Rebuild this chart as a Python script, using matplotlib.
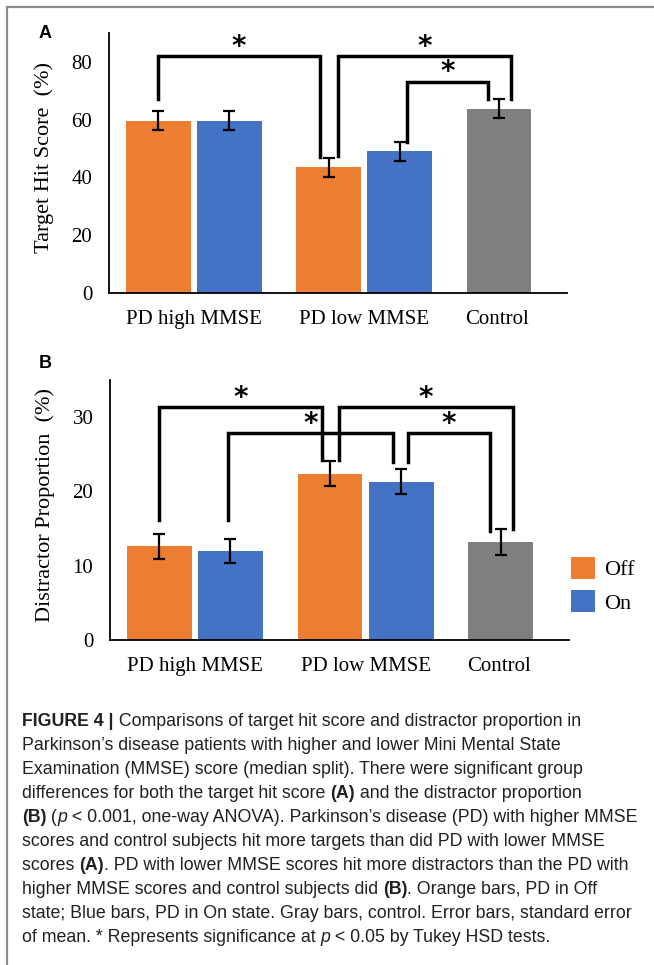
import matplotlib
matplotlib.use("Agg")
import matplotlib.pyplot as plt
from matplotlib import font_manager
from matplotlib.lines import Line2D

# categories / legend
groups = ['PD high MMSE', 'PD low MMSE', 'Control']
series = ['Off', 'On']

# panel A: target hit score (%)
hit_off = [59.7, 43.5]
hit_on = [59.7, 49.0]
hit_ctrl = 63.8
hit_off_err = [3.2, 3.2]
hit_on_err = [3.3, 3.2]
hit_ctrl_err = 3.2

# panel B: distractor proportion (%)
dis_off = [12.6, 22.4]
dis_on = [12.0, 21.3]
dis_ctrl = 13.2
dis_off_err = [1.7, 1.7]
dis_on_err = [1.6, 1.7]
dis_ctrl_err = 1.7

# significance brackets: (left x, right x, top, left leg end, right leg end)
brackets_a = [(0.0, 2.28, 82.1, 67.2, 47.1),
              (2.53, 4.97, 82.1, 47.3, 67.2),
              (3.5, 4.65, 73.2, 52.2, 67.2)]
brackets_b = [(0.0, 2.28, 31.4, 16.2, 24.2),
              (2.53, 4.97, 31.4, 24.2, 15.0),
              (0.97, 3.28, 27.9, 16.1, 23.9),
              (3.5, 4.65, 27.9, 23.9, 14.7)]

c_off = '#ED7D31'
c_on = '#4472C4'
c_ctrl = '#7F7F7F'

x_off = [0, 2.4]
x_on = [1, 3.4]
x_ctrl = 4.8
tick_x = [0.5, 2.9, 4.78]
bw = 0.91

serif = 'Liberation Serif'
names = {f.name for f in font_manager.fontManager.ttflist}
cap_font = 'Liberation Sans Narrow' if 'Liberation Sans Narrow' in names else 'Liberation Sans'

fig = plt.figure(figsize=(6.54, 9.65), dpi=100)
W, H = 654, 965

def px(x0, y0, x1, y1):
    return [x0 / W, 1 - y1 / H, (x1 - x0) / W, (y1 - y0) / H]

ax_a = fig.add_axes(px(109, 33, 567, 293))
ax_b = fig.add_axes(px(110, 380, 569, 640))

ekw = dict(elinewidth=1.6, capsize=4.5, capthick=1.6, ecolor='black')

def panel(ax, off, on, ctrl, off_e, on_e, ctrl_e, ymax, yticks, ylabel, brackets):
    ax.bar(x_off, off, bw, yerr=off_e, color=c_off, error_kw=ekw, label='Off')
    ax.bar(x_on, on, bw, yerr=on_e, color=c_on, error_kw=ekw, label='On')
    ax.bar([x_ctrl], [ctrl], bw, yerr=[ctrl_e], color=c_ctrl, error_kw=ekw)
    ax.set_xlim(-0.694, 5.76)
    ax.set_ylim(0, ymax)
    ax.set_yticks(yticks)
    ax.set_yticklabels([str(t) for t in yticks], fontsize=15, family=serif)
    ax.set_xticks(tick_x)
    ax.set_xticklabels(groups, fontsize=15, family=serif)
    ax.tick_params(axis='both', length=0)
    ax.tick_params(axis='y', pad=12)
    ax.tick_params(axis='x', pad=12)
    for s in ['top', 'right']:
        ax.spines[s].set_visible(False)
    for s in ['left', 'bottom']:
        ax.spines[s].set_linewidth(1.3)
    ax.set_ylabel(ylabel, fontsize=16, family=serif)
    ax.yaxis.set_label_coords(-0.12, 0.52)
    for xl, xr, top, yl, yr in brackets:
        ax.plot([xl, xl, xr, xr], [yl, top, top, yr], color='black', lw=2.5,
                solid_joinstyle='miter', clip_on=False)
        ax.annotate('*', xy=((xl + xr) / 2, top), xytext=(0, -3.5),
                    textcoords='offset points', ha='center', va='bottom',
                    fontsize=20, fontweight='bold', family='DejaVu Sans',
                    annotation_clip=False)

panel(ax_a, hit_off, hit_on, hit_ctrl, hit_off_err, hit_on_err, hit_ctrl_err,
      90, [0, 20, 40, 60, 80], 'Target Hit Score  (%)', brackets_a)
panel(ax_b, dis_off, dis_on, dis_ctrl, dis_off_err, dis_on_err, dis_ctrl_err,
      35, [0, 10, 20, 30], 'Distractor Proportion  (%)', brackets_b)

ax_b.legend(loc='center left', bbox_to_anchor=(1.0 - 0.02, 0.21), frameon=False,
            prop={'family': serif, 'size': 16}, handlelength=1.1, handleheight=1.1,
            handletextpad=0.4, labelspacing=0.45, borderpad=0)

fig.text(39 / W, 1 - 33 / H, 'A', fontsize=13, fontweight='bold', family='Liberation Sans', va='center')
fig.text(39 / W, 1 - 364 / H, 'B', fontsize=13, fontweight='bold', family='Liberation Sans', va='center')

# frame
fig.add_artist(Line2D([7 / W, 1], [1 - 7 / H, 1 - 7 / H], color='#8c8c8c', lw=1.6))
fig.add_artist(Line2D([7 / W, 7 / W], [0, 1 - 7 / H], color='#8c8c8c', lw=1.6))

# caption
N, B, I = ('normal', 'normal'), ('bold', 'normal'), ('normal', 'italic')
caption = [
    [('FIGURE 4 |', B), (' Comparisons of target hit score and distractor proportion in', N)],
    [('Parkinson’s disease patients with higher and lower Mini Mental State', N)],
    [('Examination (MMSE) score (median split). There were significant group', N)],
    [('differences for both the target hit score ', N), ('(A)', B), (' and the distractor proportion', N)],
    [('(B)', B), (' (', N), ('p', I), (' < 0.001, one-way ANOVA). Parkinson’s disease (PD) with higher MMSE', N)],
    [('scores and control subjects hit more targets than did PD with lower MMSE', N)],
    [('scores ', N), ('(A)', B), ('. PD with lower MMSE scores hit more distractors than the PD with', N)],
    [('higher MMSE scores and control subjects did ', N), ('(B)', B), ('. Orange bars, PD in Off', N)],
    [('state; Blue bars, PD in On state. Gray bars, control. Error bars, standard error', N)],
    [('of mean. * Represents significance at ', N), ('p', I), (' < 0.05 by Tukey HSD tests.', N)],
]

renderer = fig.canvas.get_renderer()
cap_size = 12.5

def line_width(parts, size):
    total = 0
    for txt, (w, s) in parts:
        t = fig.text(0, 0, txt, fontsize=size, fontweight=w, fontstyle=s, family=cap_font)
        total += t.get_window_extent(renderer).width
        t.remove()
    return total

# fit the longest line to the caption width
widest = max(line_width(p, cap_size) for p in caption)
cap_size = cap_size * 618 / widest

for i, parts in enumerate(caption):
    y = 1 - (722 + 24 * i) / H
    x = 22.0
    for txt, (w, s) in parts:
        t = fig.text(x / W, y, txt, fontsize=cap_size, fontweight=w, fontstyle=s,
                     family=cap_font, va='center', color='#231f20')
        x += t.get_window_extent(renderer).width

fig.savefig('out.png', dpi=100)
